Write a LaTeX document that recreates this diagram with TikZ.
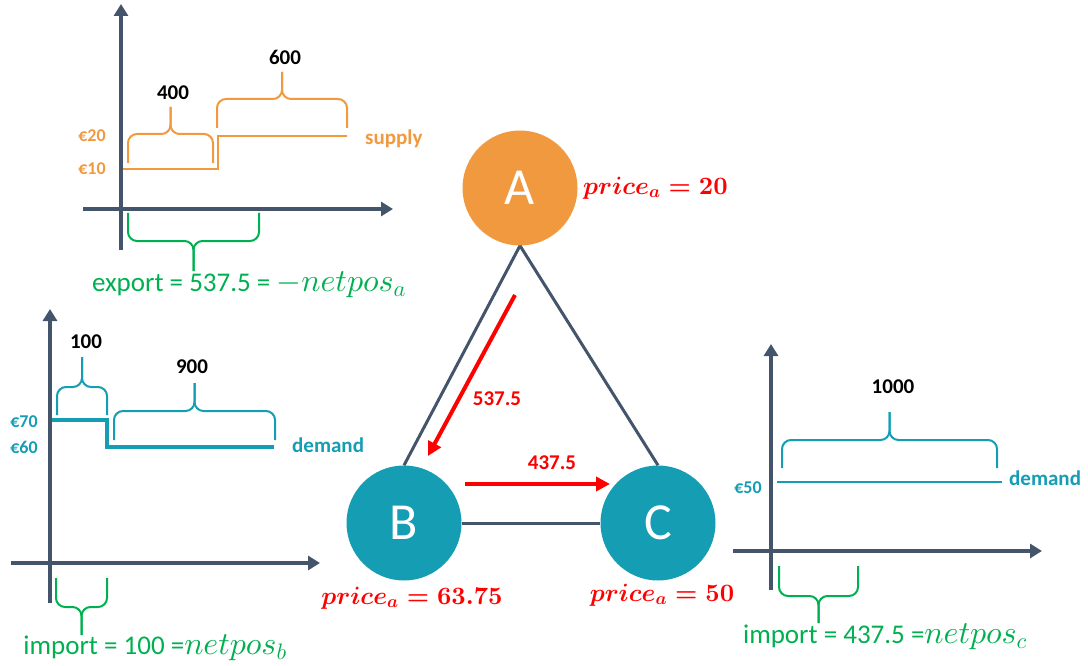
\documentclass[tikz,border=0pt]{standalone}
\DeclareFontShape{OML}{cmm}{m}{it}{<->cmmi10}{}
\DeclareFontShape{OML}{cmm}{b}{it}{<->cmmib10}{}
\DeclareFontShape{OT1}{cmr}{m}{n}{<->cmr10}{}
\DeclareFontShape{OT1}{cmr}{bx}{n}{<->cmbx10}{}
\DeclareFontShape{OMS}{cmsy}{m}{n}{<->cmsy10}{}
\DeclareFontShape{OMS}{cmsy}{b}{n}{<->cmbsy10}{}
\usepackage{fontspec}
\setmainfont{Carlito}
\usetikzlibrary{arrows.meta}
\definecolor{axisc}{HTML}{44546A}
\definecolor{orng}{HTML}{F0993E}
\definecolor{tealc}{HTML}{159DB4}
\definecolor{grn}{HTML}{00B050}
\definecolor{rd}{HTML}{FF0000}
\newcommand{\mybrace}[6][]{%
  \draw[#1,rounded corners=9pt] (#2,#4) -- (#2,#5) -- ({(#2+#3)/2},#5) -- ({(#2+#3)/2},#6);
  \draw[#1,rounded corners=9pt] (#3,#4) -- (#3,#5) -- ({(#2+#3)/2},#5) -- ({(#2+#3)/2},#6);}
\newcommand{\gm}[1]{{\fontsize{32}{32}\selectfont$#1$}}
\tikzset{
  axisline/.style={line width=4pt, color=axisc, -{Triangle[length=12pt,width=14pt]}},
  edge/.style={line width=3pt, color=axisc},
  flow/.style={line width=4pt, color=rd, -{Triangle[length=14pt,width=14pt]}},
  bus/.style={circle, minimum size=115pt, inner sep=0pt, text=white, font=\fontsize{52}{52}\selectfont},
  pricelbl/.style={text=rd, inner sep=0pt, font=\boldmath\fontsize{25}{25}\selectfont},
  qty/.style={font=\bfseries\fontsize{21}{21}\selectfont, inner sep=0pt},
  flowlbl/.style={font=\bfseries\fontsize{21}{21}\selectfont, text=rd, inner sep=0pt},
  grnlbl/.style={font=\fontsize{27}{27}\selectfont, text=grn, inner sep=0pt},
  olbl/.style={font=\bfseries\fontsize{18}{18}\selectfont, text=orng, inner sep=0pt},
  tlbl/.style={font=\bfseries\fontsize{18}{18}\selectfont, text=tealc, inner sep=0pt},
  biglbl/.style={font=\bfseries\fontsize{21}{21}\selectfont, anchor=west, inner sep=0pt},
  obrace/.style={line width=2pt, color=orng},
  tbrace/.style={line width=2pt, color=tealc},
  gbrace/.style={line width=2pt, color=grn},
}
\begin{document}
\begin{tikzpicture}[x=1pt,y=-1pt]
\useasboundingbox (0,0) rectangle (1088,666);
% ---------- top-left chart (node A) ----------
\draw[axisline] (121,250) -- (121,4);
\draw[axisline] (83,209) -- (393,209);
\draw[line width=2pt, color=orng] (123,169) -- (218,169) -- (218,136) -- (347,136);
\mybrace[obrace]{128}{213}{163}{134}{107}
\mybrace[obrace]{217}{347}{128}{99}{72}
\node[qty] (q400) at (173,93) {400};
\node[qty] (q600) at (285,57) {600};
\node[olbl] (p20) at (92,136) {€20};
\node[olbl] (p10) at (92,169) {€10};
\node[biglbl, text=orng] (sup) at (365,139) {supply};
\mybrace[gbrace]{128}{259}{213}{241}{271}
\node[grnlbl] (exp) at (249,285) {export = 537.5 = \gm{-netpos_a}};
% ---------- middle-left chart (node B) ----------
\draw[axisline] (50,603) -- (50,309);
\draw[axisline] (11,563) -- (320,563);
\draw[line width=4pt, color=tealc] (52,420) -- (107,420) -- (107,447) -- (274,447);
\mybrace[tbrace]{57}{107}{415}{387}{357}
\mybrace[tbrace]{114}{275}{440}{411}{383}
\node[qty] (q100) at (86,342) {100};
\node[qty] (q900) at (192,367) {900};
\node[tlbl] (p70) at (24,422) {€70};
\node[tlbl] (p60) at (24,447) {€60};
\node[biglbl, text=tealc] (demb) at (292,445) {demand};
\mybrace[gbrace]{56}{107}{578}{607}{635}
\node[grnlbl] (impb) at (155,648) {import = 100 =\gm{netpos_b}};
% ---------- right chart (node C) ----------
\draw[axisline] (771,590) -- (771,344);
\draw[axisline] (733,551) -- (1042,551);
\draw[line width=2pt, color=tealc] (777,482) -- (1002,482);
\mybrace[tbrace]{782}{997}{468}{440}{412}
\node[qty] (q1000) at (893,387) {1000};
\node[tlbl] (p50) at (748,488) {€50};
\node[biglbl, text=tealc] (demc) at (1009,478) {demand};
\mybrace[gbrace]{779}{858}{566}{596}{623}
\node[grnlbl] (impc) at (885,637) {import = 437.5 =\gm{netpos_c}};
% ---------- network ----------
\node[bus, fill=orng] (A) at (520,188) {A};
\node[bus, fill=tealc] (B) at (404,523) {B};
\node[bus, fill=tealc] (C) at (658,523) {C};
\draw[edge] (A.south) -- (B.north);
\draw[edge] (A.south) -- (C.north);
\draw[edge] (B.east) -- (C.west);
\coordinate (f1s) at (515,295);
\coordinate (f1e) at (428,456);
\coordinate (f2s) at (465,484);
\coordinate (f2e) at (610,484);
\draw[flow] (f1s) -- (f1e);
\draw[flow] (f2s) -- (f2e);
\node[flowlbl] (l1) at (497,399) {537.5};
\node[flowlbl] (l2) at (552,463) {437.5};
\node[pricelbl, anchor=west] (pa) at (583,188) {$price_a = 20$};
\node[pricelbl] (pb) at (412,598) {$price_a = 63.75$};
\node[pricelbl] (pc) at (662,595) {$price_a = 50$};
\end{tikzpicture}
\end{document}
